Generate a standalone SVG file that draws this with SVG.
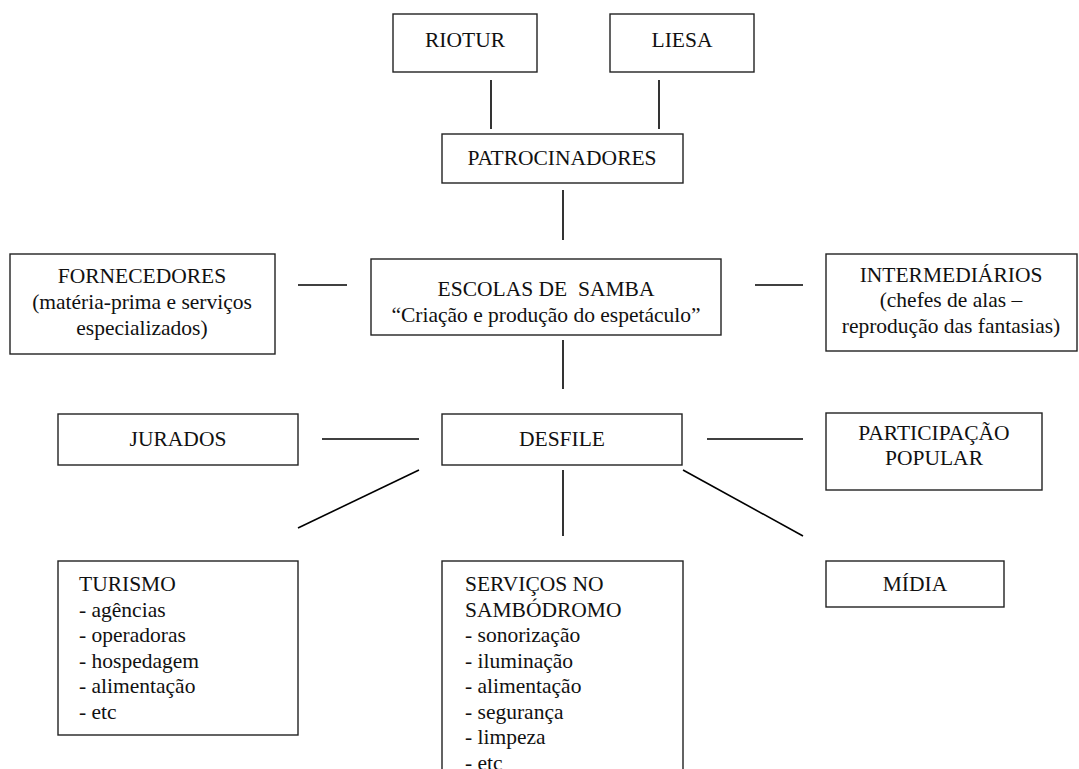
<svg xmlns="http://www.w3.org/2000/svg" width="1079" height="769" viewBox="0 0 1079 769">
<style>
.box{fill:#fff;stroke:#222;stroke-width:1.4}
.ln{stroke:#000;stroke-width:1.6;fill:none}
text{font-family:"Liberation Serif","Times New Roman",serif;font-size:21.5px;fill:#111}
.c{text-anchor:middle}
</style>
<rect width="1079" height="769" fill="#fff"/>
<g id="connectors">
<line class="ln" x1="491" y1="80" x2="491" y2="129"/>
<line class="ln" x1="659" y1="80" x2="659" y2="129"/>
<line class="ln" x1="563" y1="190" x2="563" y2="240"/>
<line class="ln" x1="298" y1="285" x2="347" y2="285"/>
<line class="ln" x1="755" y1="285" x2="803" y2="285"/>
<line class="ln" x1="563" y1="340" x2="563" y2="389"/>
<line class="ln" x1="322" y1="439" x2="419" y2="439"/>
<line class="ln" x1="707" y1="439" x2="803" y2="439"/>
<line class="ln" x1="419" y1="470" x2="298" y2="528"/>
<line class="ln" x1="563" y1="470" x2="563" y2="536"/>
<line class="ln" x1="683" y1="470" x2="803" y2="536"/>
</g>
<g id="riotur"><rect class="box" x="393" y="14" width="144" height="58"/><text class="c" x="465" y="47">RIOTUR</text></g>
<g id="liesa"><rect class="box" x="610" y="14" width="144" height="58"/><text class="c" x="682" y="47">LIESA</text></g>
<g id="patrocinadores"><rect class="box" x="442" y="134" width="241" height="49"/><text class="c" x="562" y="165">PATROCINADORES</text></g>
<g id="fornecedores"><rect class="box" x="10" y="254" width="265" height="100"/>
<text class="c" x="142" y="283">FORNECEDORES</text>
<text class="c" x="142" y="309">(matéria-prima e serviços</text>
<text class="c" x="142" y="335">especializados)</text></g>
<g id="escolas"><rect class="box" x="371" y="259" width="350" height="76"/>
<text class="c" x="546" y="296" xml:space="preserve">ESCOLAS DE  SAMBA</text>
<text class="c" x="546" y="322">“Criação e produção do espetáculo”</text></g>
<g id="intermediarios"><rect class="box" x="826" y="254" width="251" height="97"/>
<text class="c" x="951" y="282">INTERMEDIÁRIOS</text>
<text class="c" x="951" y="307">(chefes de alas –</text>
<text class="c" x="951" y="333">reprodução das fantasias)</text></g>
<g id="jurados"><rect class="box" x="58" y="414" width="240" height="51"/><text class="c" x="178" y="446">JURADOS</text></g>
<g id="desfile"><rect class="box" x="442" y="414" width="240" height="51"/><text class="c" x="562" y="446">DESFILE</text></g>
<g id="participacao"><rect class="box" x="826" y="413" width="216" height="77"/>
<text class="c" x="934" y="440">PARTICIPAÇÃO</text>
<text class="c" x="934" y="465">POPULAR</text></g>
<g id="turismo"><rect class="box" x="58" y="561" width="240" height="174"/>
<text x="79" y="591">TURISMO</text>
<text x="79" y="616.5">- agências</text>
<text x="79" y="642">- operadoras</text>
<text x="79" y="667.5">- hospedagem</text>
<text x="79" y="693">- alimentação</text>
<text x="79" y="718.5">- etc</text></g>
<g id="servicos"><rect class="box" x="442" y="561" width="241" height="230"/>
<text x="465" y="591">SERVIÇOS NO</text>
<text x="465" y="616.5">SAMBÓDROMO</text>
<text x="465" y="642">- sonorização</text>
<text x="465" y="667.5">- iluminação</text>
<text x="465" y="693">- alimentação</text>
<text x="465" y="718.5">- segurança</text>
<text x="465" y="744">- limpeza</text>
<text x="465" y="769.5">- etc</text></g>
<g id="midia"><rect class="box" x="826" y="561" width="178" height="46"/><text class="c" x="915" y="591">MÍDIA</text></g>
</svg>
